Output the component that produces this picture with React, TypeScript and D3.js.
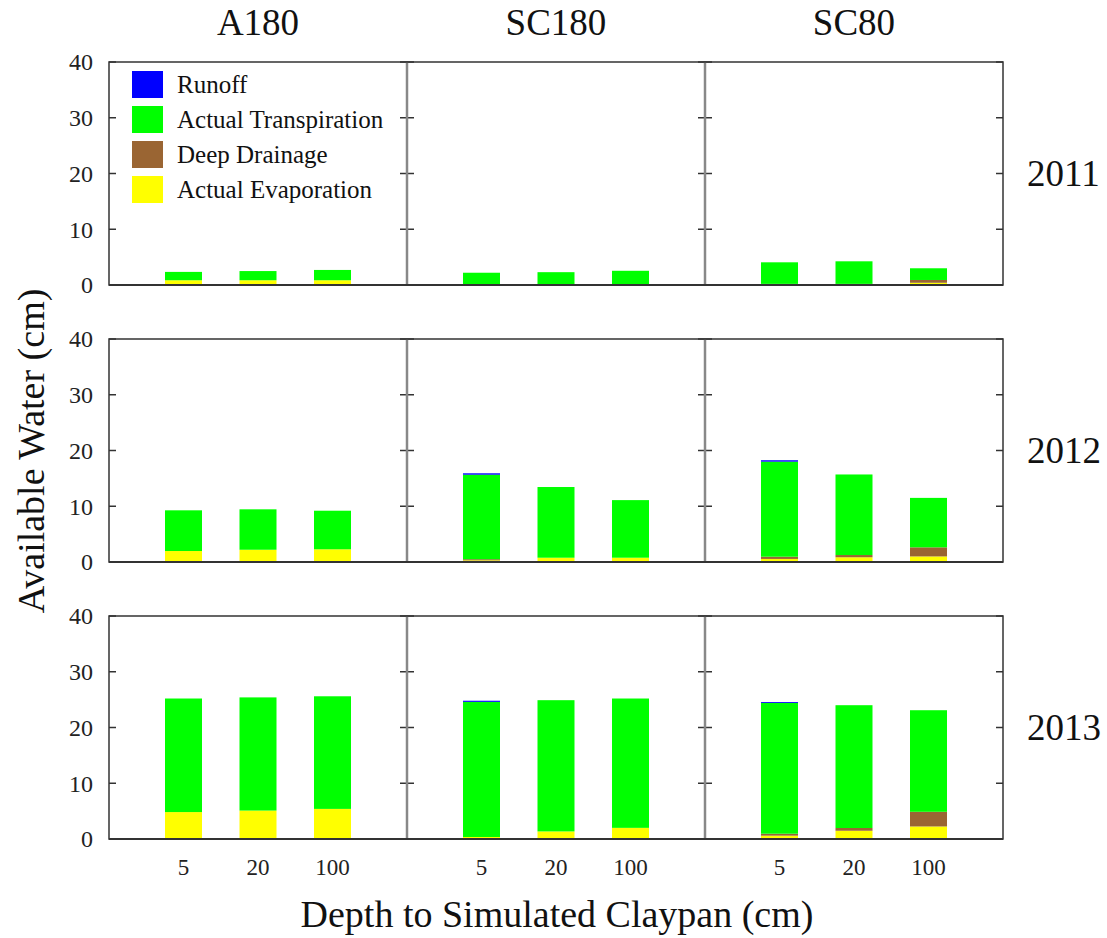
import React from "react";
import * as d3 from "d3";

const depths = ["5", "20", "100"];
const treatments = ["A180", "SC180", "SC80"];
const years = ["2011", "2012", "2013"];
const yTicks = [0, 10, 20, 30, 40];
const seriesNames = ["Actual Evaporation", "Deep Drainage", "Actual Transpiration", "Runoff"];
const legendOrder = ["Runoff", "Actual Transpiration", "Deep Drainage", "Actual Evaporation"];
const colors: Record<string, string> = {
  "Runoff": "#0000ff",
  "Actual Transpiration": "#00ff00",
  "Deep Drainage": "#9a6533",
  "Actual Evaporation": "#ffff00",
};

// values per year: [A180 5,20,100, SC180 5,20,100, SC80 5,20,100]
const evaporation = [
  [0.85, 0.85, 0.85, 0.1, 0.1, 0.1, 0.15, 0.15, 0.4],
  [1.97, 2.2, 2.28, 0.3, 0.77, 0.77, 0.55, 0.85, 1.0],
  [4.83, 5.1, 5.4, 0.36, 1.36, 2.0, 0.6, 1.48, 2.25],
];
const drainage = [
  [0, 0, 0, 0, 0, 0, 0.05, 0.05, 0.5],
  [0, 0, 0, 0.2, 0, 0, 0.4, 0.4, 1.63],
  [0, 0, 0, 0, 0, 0, 0.35, 0.49, 2.63],
];
const transpiration = [
  [1.5, 1.65, 1.85, 2.1, 2.2, 2.45, 3.87, 4.05, 2.1],
  [7.3, 7.25, 6.92, 15.16, 12.68, 10.33, 17.05, 14.45, 8.87],
  [20.37, 20.3, 20.2, 24.24, 23.54, 23.2, 23.45, 22.03, 18.22],
];
const runoff = [
  [0, 0, 0, 0, 0, 0, 0, 0, 0],
  [0, 0, 0, 0.25, 0, 0, 0.25, 0, 0],
  [0, 0, 0, 0.2, 0, 0, 0.16, 0, 0],
];

const W = 1107;
const H = 938;
const left = 109;
const panelW = 298;
const top0 = 62;
const panelH = 223;
const rowStep = 277;
const font = "'Liberation Serif', 'Times New Roman', serif";

export default function App() {
  const x = d3.scalePoint<string>().domain(depths).range([0, panelW]).padding(1);
  const y = d3.scaleLinear().domain([0, 40]).range([panelH, 0]);
  const barW = 37;
  const stack = d3.stack<any>().keys(seriesNames);

  const panels: React.ReactNode[] = [];
  years.forEach((yr, ri) => {
    treatments.forEach((tr, ci) => {
      const rows = depths.map((d, di) => {
        const k = ci * 3 + di;
        return {
          depth: d,
          "Actual Evaporation": evaporation[ri][k],
          "Deep Drainage": drainage[ri][k],
          "Actual Transpiration": transpiration[ri][k],
          "Runoff": runoff[ri][k],
        };
      });
      const stacked = stack(rows);
      const px = left + ci * panelW;
      const py = top0 + ri * rowStep;
      panels.push(
        <g key={yr + tr} transform={`translate(${px},${py})`}>
          {stacked.map((s) => (
            <g key={s.key} fill={colors[s.key]}>
              {s.map((p, i) =>
                p[1] - p[0] > 0 ? (
                  <rect
                    key={i}
                    x={(x(rows[i].depth) as number) - barW / 2}
                    y={y(p[1])}
                    width={barW}
                    height={y(p[0]) - y(p[1])}
                  />
                ) : null
              )}
            </g>
          ))}
          {yTicks.map((t) => (
            <g key={t} stroke="#333" strokeWidth={1.5}>
              <line x1={0} x2={7} y1={y(t)} y2={y(t)} />
              <line x1={panelW - 7} x2={panelW} y1={y(t)} y2={y(t)} />
            </g>
          ))}
        </g>
      );
    });
  });

  const frames: React.ReactNode[] = [];
  years.forEach((yr, ri) => {
    const py = top0 + ri * rowStep;
    frames.push(
      <g key={"f" + yr}>
        {[1, 2].map((c) => (
          <line key={c} x1={left + c * panelW} x2={left + c * panelW} y1={py} y2={py + panelH} stroke="#888" strokeWidth={2.5} />
        ))}
        <rect x={left} y={py} width={panelW * 3} height={panelH} fill="none" stroke="#333" strokeWidth={1.5} />
        <line x1={left} x2={left + panelW * 3} y1={py + panelH} y2={py + panelH} stroke="#333" strokeWidth={2} />
        {yTicks.map((t) => (
          <text key={t} x={93} y={py + y(t)} dy="0.35em" textAnchor="end" fontSize={24} fill="#222">
            {t}
          </text>
        ))}
        <text x={1027} y={py + panelH / 2} dy="0.35em" fontSize={37} fill="#111">
          {yr}
        </text>
      </g>
    );
  });

  return (
    <svg width={W} height={H} style={{ display: "block", position: "absolute", left: 0, top: 0 }} fontFamily={font}>
      <rect width={W} height={H} fill="#fff" />
      {panels}
      {frames}
      {treatments.map((tr, ci) => (
        <text key={tr} x={left + ci * panelW + panelW / 2} y={35} textAnchor="middle" fontSize={37} fill="#111">
          {tr}
        </text>
      ))}
      {treatments.map((tr, ci) =>
        depths.map((d) => (
          <text key={tr + d} x={left + ci * panelW + (x(d) as number)} y={875} textAnchor="middle" fontSize={23} fill="#222">
            {d}
          </text>
        ))
      )}
      <text x={557} y={927} textAnchor="middle" fontSize={38} fill="#111">
        Depth to Simulated Claypan (cm)
      </text>
      <text transform={`translate(44,451) rotate(-90)`} textAnchor="middle" fontSize={38} fill="#111">
        Available Water (cm)
      </text>
      {legendOrder.map((name, i) => (
        <g key={name} transform={`translate(132,${71 + i * 35})`}>
          <rect width={31} height={27} fill={colors[name]} />
          <text x={45} y={13.5} dy="0.35em" fontSize={25} fill="#111">
            {name}
          </text>
        </g>
      ))}
    </svg>
  );
}
